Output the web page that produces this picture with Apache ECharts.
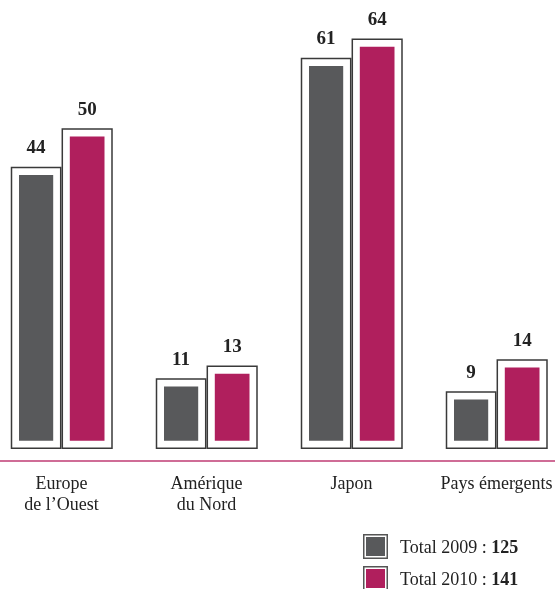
<!DOCTYPE html>
<html>
<head>
<meta charset="utf-8">
<script src="https://cdn.jsdelivr.net/npm/echarts@6/dist/echarts.min.js"></script>
<style>
html,body{margin:0;padding:0;background:#fff;}
#chart{width:555px;height:589px;}
</style>
</head>
<body>
<div id="chart"></div>
<script>
const categories = ['Europe\nde l\u2019Ouest', 'Am\u00e9rique\ndu Nord', 'Japon', 'Pays \u00e9mergents'];
const values2009 = [44, 11, 61, 9];
const values2010 = [50, 13, 64, 14];
const seriesNames = ['Total 2009', 'Total 2010'];
const totals = [125, 141];

const colors = ['#58595b', '#b01f5d'];
const FONT = '"Liberation Serif", "Times New Roman", serif';

function makeRender(side, color) {
  return function (params, api) {
    const idx = api.value(0);
    const val = api.value(1);
    const top = api.coord([idx, val]);
    const base = api.coord([idx, 0]);
    const cx = top[0];
    const x0 = side === 0 ? cx - 50 : cx + 0.8;
    const x1 = side === 0 ? cx - 0.8 : cx + 50.5;
    const y0 = top[1] + 0.7;
    const y1 = base[1] - 0.7;
    const ins = 7.5;
    return {
      type: 'group',
      children: [
        { type: 'rect', shape: { x: x0, y: y0, width: x1 - x0, height: y1 - y0 },
          style: { fill: '#fff', stroke: '#3a3a3a', lineWidth: 1.5 } },
        { type: 'rect', shape: { x: x0 + ins, y: y0 + ins, width: x1 - x0 - 2 * ins, height: y1 - y0 - 2 * ins },
          style: { fill: color } },
        { type: 'text', style: { text: String(val), x: (x0 + x1) / 2, y: y0 - 19,
            align: 'center', verticalAlign: 'middle', font: 'bold 19px ' + FONT, fill: '#222' } }
      ]
    };
  };
}

const chart = echarts.init(document.getElementById('chart'), null, { renderer: 'canvas' });
chart.setOption({
  animation: false,
  backgroundColor: '#fff',
  grid: { left: -11, right: -14, top: 0, bottom: 128, containLabel: false, outerBoundsMode: 'none' },
  xAxis: {
    type: 'category',
    data: categories,
    axisLine: { onZero: false, lineStyle: { color: '#cf6c96', width: 2 } },
    axisTick: { show: false },
    axisLabel: { interval: 0, color: '#222', fontFamily: FONT, fontSize: 18, lineHeight: 21, margin: 13 }
  },
  yAxis: { type: 'value', min: -1.875, max: 70, show: false, splitLine: { show: false } },
  series: [
    { type: 'custom', name: seriesNames[0], renderItem: makeRender(0, colors[0]),
      data: values2009.map((v, i) => [i, v]) },
    { type: 'custom', name: seriesNames[1], renderItem: makeRender(1, colors[1]),
      data: values2010.map((v, i) => [i, v]) }
  ],
  graphic: [0, 1].map(i => ({
    type: 'group',
    left: 363, top: 534 + i * 32,
    children: [
      { type: 'rect', shape: { x: 0.75, y: 0.75, width: 23.5, height: 23.5 },
        style: { fill: '#fff', stroke: '#555', lineWidth: 1.5 } },
      { type: 'rect', shape: { x: 3, y: 3, width: 19, height: 19 }, style: { fill: colors[i] } },
      { type: 'text', x: 37, y: 14,
        style: { text: '{n|' + seriesNames[i] + ' : }{b|' + totals[i] + '}', verticalAlign: 'middle',
          rich: { n: { font: '18px ' + FONT, fill: '#222' }, b: { font: 'bold 18px ' + FONT, fill: '#222' } } } }
    ]
  }))
});
</script>
</body>
</html>
